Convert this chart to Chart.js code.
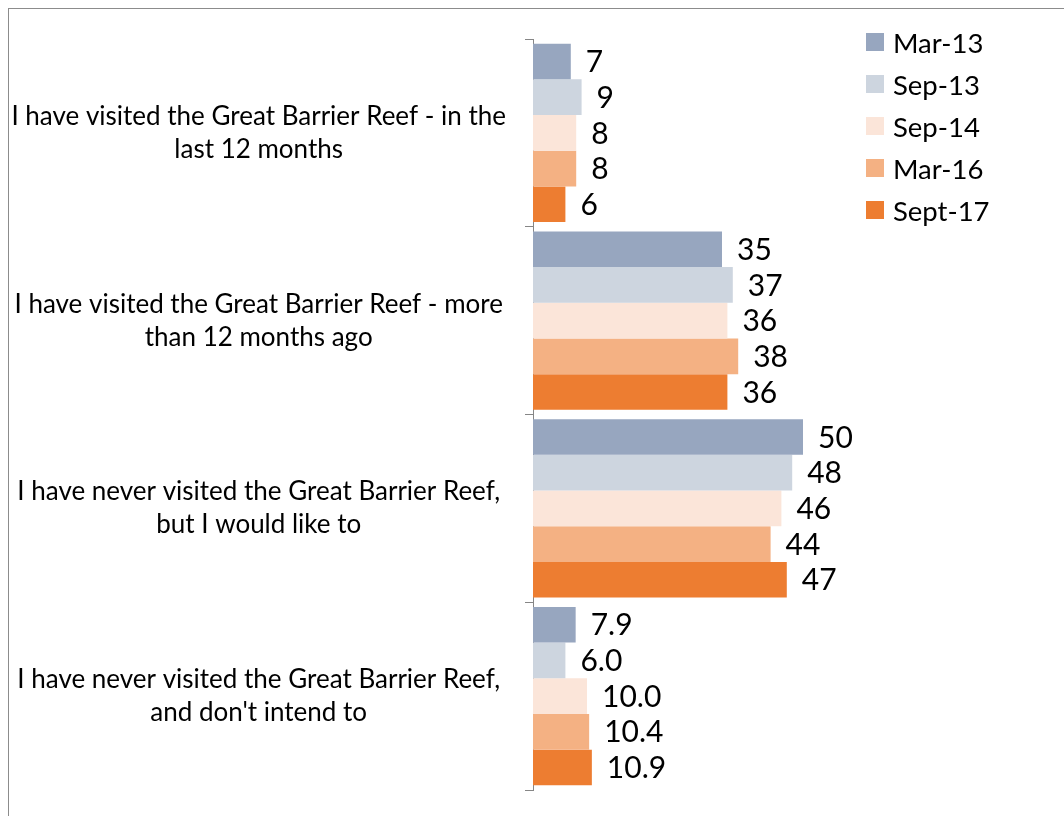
<!DOCTYPE html>
<html>
<head>
<meta charset="utf-8">
<script src="https://cdn.jsdelivr.net/npm/chart.js@4.4.1/dist/chart.umd.min.js"></script>
<style>
  html, body { margin: 0; padding: 0; background: #fff; overflow: hidden; }
  #wrap { position: relative; width: 1064px; height: 816px; }
  #frame { position: absolute; left: 8px; top: 8px; width: 1200px; height: 1000px;
           border-left: 1px solid #8c8c8c; border-top: 1px solid #8c8c8c; box-sizing: border-box; }
  #legend { position: absolute; left: 866px; top: 21px; font-family: Lato, sans-serif; font-size: 27.5px; color: #000; }
  #legend .item { height: 42px; display: flex; align-items: center; }
  #legend .box { width: 18px; height: 18px; margin-right: 9px; }
</style>
</head>
<body>
<div id="wrap">
  <div id="frame"></div>
  <canvas id="c" width="1064" height="816"></canvas>
  <div id="legend"></div>
</div>
<script>
const categories = [
  ["I have visited the Great Barrier Reef - in the", "last 12 months"],
  ["I have visited the Great Barrier Reef - more", "than 12 months ago"],
  ["I have never visited the Great Barrier Reef,", "but I would like to"],
  ["I have never visited the Great Barrier Reef,", "and don't intend to"]
];
const seriesNames = ["Mar-13", "Sep-13", "Sep-14", "Mar-16", "Sept-17"];
const mar13  = [7, 35, 50, 7.9];
const sep13  = [9, 37, 48, 6.0];
const sep14  = [8, 36, 46, 10.0];
const mar16  = [8, 38, 44, 10.4];
const sept17 = [6, 36, 47, 10.9];
const labelDecimals = [0, 0, 0, 1];
const colors = ["#97A6BF", "#CDD5DF", "#FBE5D9", "#F4B183", "#ED7D31"];

const seriesValues = [mar13, sep13, sep14, mar16, sept17];

const datasets = seriesNames.map((name, i) => ({
  label: name,
  data: seriesValues[i],
  backgroundColor: colors[i],
  borderWidth: 0,
  categoryPercentage: 0.95,
  barPercentage: 1.0
}));

const valueLabels = {
  id: 'valueLabels',
  afterDatasetsDraw(chart) {
    const ctx = chart.ctx;
    ctx.save();
    ctx.font = '30px Lato, sans-serif';
    ctx.fillStyle = '#000';
    ctx.textAlign = 'left';
    ctx.textBaseline = 'middle';
    chart.data.datasets.forEach((ds, di) => {
      const meta = chart.getDatasetMeta(di);
      meta.data.forEach((bar, i) => {
        const v = ds.data[i];
        ctx.fillText(v.toFixed(labelDecimals[i]), bar.x + 15, bar.y + 1);
      });
    });
    ctx.restore();
  }
};

new Chart(document.getElementById('c'), {
  type: 'bar',
  data: { labels: categories, datasets },
  options: {
    indexAxis: 'y',
    responsive: false,
    animation: false,
    layout: { padding: { top: 39, bottom: 26, left: 8, right: 207 } },
    plugins: { legend: { display: false }, tooltip: { enabled: false } },
    scales: {
      x: { display: false, min: 0, max: 60 },
      y: {
        afterFit(scale) { scale.width = 525; scale.paddingTop = 0; scale.paddingBottom = 0; },
        border: { display: true, color: '#868686', width: 1 },
        grid: { display: true, drawOnChartArea: false, drawTicks: true, tickLength: 8, color: '#868686', offset: true },
        ticks: {
          crossAlign: 'center',
          padding: 19,
          color: '#000',
          font: { family: 'Lato, sans-serif', size: 26, lineHeight: 1.27 }
        }
      }
    }
  },
  plugins: [valueLabels]
});

const legend = document.getElementById('legend');
seriesNames.forEach((name, i) => {
  const item = document.createElement('div');
  item.className = 'item';
  const box = document.createElement('div');
  box.className = 'box';
  box.style.background = colors[i];
  const txt = document.createElement('span');
  txt.textContent = name;
  item.appendChild(box); item.appendChild(txt);
  legend.appendChild(item);
});
</script>
</body>
</html>
